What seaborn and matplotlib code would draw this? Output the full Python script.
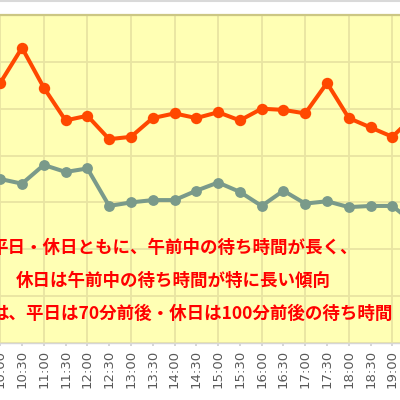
import matplotlib
matplotlib.use("Agg")
import matplotlib.pyplot as plt
import seaborn as sns
from matplotlib.lines import Line2D

# 時刻ラベル（30分刻み）
times = ["10:00", "10:30", "11:00", "11:30", "12:00", "12:30", "13:00", "13:30",
         "14:00", "14:30", "15:00", "15:30", "16:00", "16:30", "17:00", "17:30",
         "18:00", "18:30", "19:00", "19:30"]
# 休日の待ち時間（分）
holiday = [111, 126, 109, 95, 97, 87, 88, 96, 98, 96, 98.5, 95, 100, 99.5, 98,
           111, 96, 92, 88, 97]
# 平日の待ち時間（分）
weekday = [70, 68, 76, 73, 74.5, 58.5, 60, 61, 61, 65, 68.5, 64.5, 58.5, 65,
           59.5, 60.5, 58, 58.5, 58.5, 51]
# 注釈テキスト
notes = ["平日・休日ともに、午前中の待ち時間が長く、",
         "休日は午前中の待ち時間が特に長い傾向",
         "は、平日は70分前後・休日は100分前後の待ち時間"]

sns.set_theme(style="white")
plt.rcParams["font.family"] = ["Noto Sans CJK JP", "DejaVu Sans"]

fig = plt.figure(figsize=(4, 4), dpi=100)
fig.patch.set_facecolor("white")
ax = fig.add_axes([0, 0.1425, 1, 0.82])
ax.set_facecolor("#FFFFB4")

idx = list(range(len(times)))
sns.lineplot(x=idx, y=weekday, ax=ax, color="#7A9A8A", linewidth=2.9,
             marker="o", markersize=7.8, markeredgewidth=0, markeredgecolor="#7A9A8A")
sns.lineplot(x=idx, y=holiday, ax=ax, color="#FF4800", linewidth=2.9,
             marker="o", markersize=8.2, markeredgewidth=0, markeredgecolor="#FF4800")

ax.set_xticks(idx)
ax.set_xticklabels(times, rotation=90, fontsize=9.5, color="#595959", family="DejaVu Sans")
ax.set_yticks(range(0, 141, 20))
# set_xticks の後で範囲を決める（チャートの一部だけ見える）
ax.set_xlim(-0.01, 18.35)
ax.set_ylim(0, 140)
ax.tick_params(axis="x", length=2, color="#D0D0D0", pad=3, bottom=True)
ax.tick_params(axis="y", left=False, labelleft=False)
ax.set_xlabel("")
ax.set_ylabel("")

ax.grid(True, color="#E8E4A2", linewidth=1.3)
for i, g in enumerate(ax.get_xgridlines()):
    if i % 2 == 1:
        g.set_visible(False)
ax.set_axisbelow(True)

for s in ["left", "right"]:
    ax.spines[s].set_visible(False)
ax.spines["top"].set_color("#CCC784")
ax.spines["top"].set_linewidth(1.6)
ax.spines["bottom"].set_color("#D6D6D6")
ax.spines["bottom"].set_linewidth(1.0)

# 上端の灰色ライン
fig.add_artist(Line2D([0, 1], [0.998, 0.998], color="#D9D9D9", linewidth=1.5))

# 注釈（赤字）
fig.text(-9.5 / 400, 1 - 248 / 400, notes[0], color="#FF0000", fontsize=12.6,
         fontweight="bold", ha="left", va="center")
fig.text(16 / 400, 1 - 281 / 400, notes[1], color="#FF0000", fontsize=12.6,
         fontweight="bold", ha="left", va="center")
fig.text(-9 / 400, 1 - 314 / 400, notes[2], color="#FF0000", fontsize=12.6,
         fontweight="bold", ha="left", va="center")

fig.savefig("out.png", dpi=100)
